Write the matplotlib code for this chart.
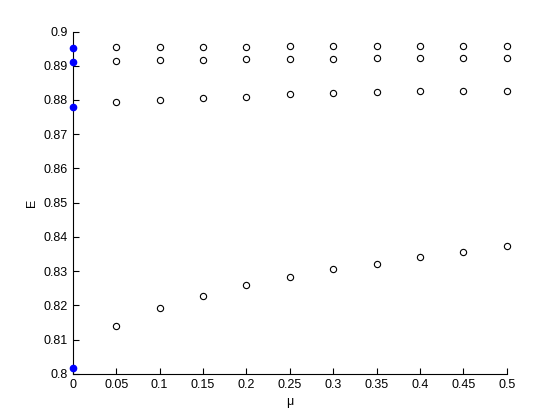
import numpy as np
import matplotlib
matplotlib.use('Agg')
import matplotlib.pyplot as plt

plt.rcParams['font.family'] = ['Liberation Sans', 'DejaVu Sans']

mu = [0.05, 0.1, 0.15, 0.2, 0.25, 0.3, 0.35, 0.4, 0.45, 0.5]
e_top = [0.8954, 0.8954, 0.8954, 0.8954, 0.8957, 0.8957, 0.8957, 0.8957, 0.8957, 0.8957]
e_second = [0.8913, 0.8916, 0.8916, 0.8919, 0.8919, 0.8919, 0.8922, 0.8922, 0.8922, 0.8922]
e_third = [0.8795, 0.8801, 0.8807, 0.8810, 0.8816, 0.8819, 0.8822, 0.8825, 0.8825, 0.8827]
e_bottom = [0.8139, 0.8191, 0.8226, 0.8259, 0.8282, 0.8305, 0.8322, 0.8340, 0.8357, 0.8373]

# values at mu = 0
mu0 = [0, 0, 0, 0]
e0 = [0.8951, 0.8910, 0.8780, 0.8017]

xticks = [0, 0.05, 0.1, 0.15, 0.2, 0.25, 0.3, 0.35, 0.4, 0.45, 0.5]
xticklabels = ['0', '0.05', '0.1', '0.15', '0.2', '0.25', '0.3', '0.35', '0.4', '0.45', '0.5']
yticks = [0.8, 0.81, 0.82, 0.83, 0.84, 0.85, 0.86, 0.87, 0.88, 0.89, 0.9]
yticklabels = ['0.8', '0.81', '0.82', '0.83', '0.84', '0.85', '0.86', '0.87', '0.88', '0.89', '0.9']

fig = plt.figure(figsize=(5.6, 4.2), dpi=100)
ax = fig.add_axes([0.13, 0.11, 0.775, 0.815])

for e in [e_top, e_second, e_third, e_bottom]:
    ax.plot(mu, e, 'o', mfc='none', mec='black', ms=4.5, mew=0.8, clip_on=False)
ax.plot(mu0, e0, 'o', color='blue', ms=4.5, clip_on=False, zorder=5)

ax.set_xlim(0, 0.5)
ax.set_ylim(0.8, 0.9)
ax.set_xticks(xticks)
ax.set_xticklabels(xticklabels)
ax.set_yticks(yticks)
ax.set_yticklabels(yticklabels)
ax.spines['top'].set_visible(False)
ax.spines['right'].set_visible(False)
ax.tick_params(direction='in', length=4, labelsize=9, width=0.8)
ax.set_xlabel('μ', fontsize=9)
ax.set_ylabel('E', fontsize=9)

fig.savefig('out.png', dpi=100)
